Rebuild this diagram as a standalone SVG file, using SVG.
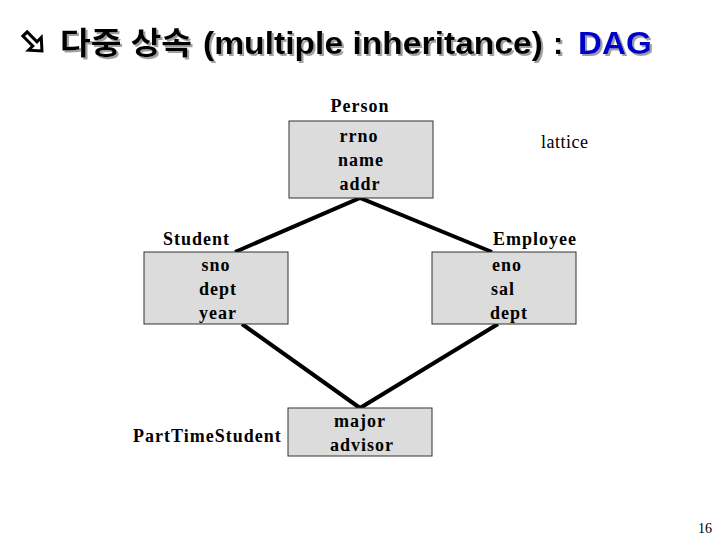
<svg xmlns="http://www.w3.org/2000/svg" width="720" height="540" viewBox="0 0 720 540">
<style>
.title{font-family:"Liberation Sans","Noto Sans CJK KR",sans-serif;font-weight:bold;font-size:31px}
.lbl{font-family:"Liberation Serif",serif;font-weight:bold;font-size:18px;letter-spacing:1px;fill:#000}
.box{fill:#dcdcdc;stroke:#333;stroke-width:1}
.edge{stroke:#000;stroke-width:4;fill:none;stroke-linecap:butt}
</style>
<defs>
<filter id="shadow" x="-5%" y="-20%" width="110%" height="150%">
<feDropShadow dx="2" dy="2" stdDeviation="0" flood-color="#a0a0a0"/>
</filter>
</defs>
<rect width="720" height="540" fill="#fff"/>
<g id="title">
<polygon points="0,-3 14,-3 14,-9 24,0 14,9 14,3 0,3" transform="translate(25,34) rotate(45)" fill="#fff" stroke="#000" stroke-width="3" stroke-linejoin="miter"/>
<g filter="url(#shadow)">
<text class="title" x="60" y="54" fill="#000" textLength="132" lengthAdjust="spacingAndGlyphs">다중 상속</text>
<text class="title" x="203" y="54" fill="#000" textLength="340" lengthAdjust="spacingAndGlyphs">(multiple inheritance)</text>
<text class="title" x="553" y="54" fill="#000">:</text>
<text class="title" x="578" y="54" fill="#0000cc" textLength="74" lengthAdjust="spacingAndGlyphs">DAG</text>
</g>
</g>
<g id="connectors">
<polyline class="edge" points="235,252 360,198 492,252"/>
<polyline class="edge" points="242,324 360,408 498,324"/>
</g>
<g id="person">
<text class="lbl" x="360" y="112" text-anchor="middle">Person</text>
<rect class="box" x="289" y="121" width="144" height="77"/>
<text class="lbl" x="359" y="142" text-anchor="middle">rrno</text>
<text class="lbl" x="361" y="166" text-anchor="middle">name</text>
<text class="lbl" x="360" y="190" text-anchor="middle">addr</text>
</g>
<g id="lattice">
<text x="541" y="148" font-family="Liberation Serif,serif" font-size="18" letter-spacing="0.5">lattice</text>
</g>
<g id="student">
<text class="lbl" x="163" y="245">Student</text>
<rect class="box" x="144" y="252" width="144" height="72"/>
<text class="lbl" x="216" y="271" text-anchor="middle">sno</text>
<text class="lbl" x="218" y="295" text-anchor="middle">dept</text>
<text class="lbl" x="218" y="319" text-anchor="middle">year</text>
</g>
<g id="employee">
<text class="lbl" x="493" y="245">Employee</text>
<rect class="box" x="432" y="252" width="144" height="72"/>
<text class="lbl" x="492" y="271">eno</text>
<text class="lbl" x="491" y="295">sal</text>
<text class="lbl" x="490" y="319">dept</text>
</g>
<g id="parttimestudent">
<text class="lbl" x="133" y="442">PartTimeStudent</text>
<rect class="box" x="288" y="408" width="144" height="48"/>
<text class="lbl" x="360" y="427" text-anchor="middle">major</text>
<text class="lbl" x="362" y="451" text-anchor="middle">advisor</text>
</g>
<text x="712" y="533" font-family="Liberation Serif,serif" font-size="14" text-anchor="end">16</text>
</svg>
